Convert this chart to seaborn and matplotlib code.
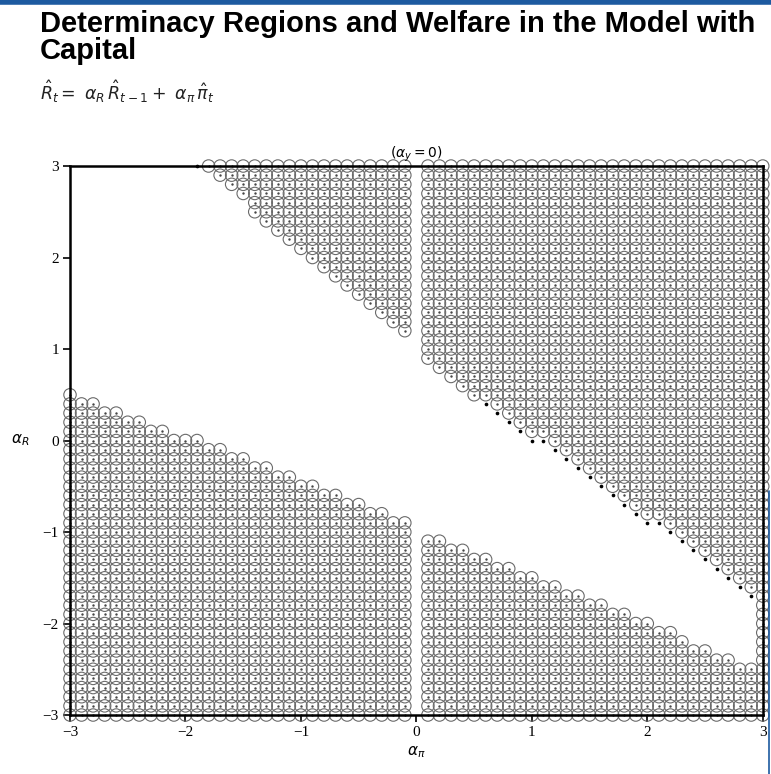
import numpy as np
import pandas as pd
import matplotlib
matplotlib.use("Agg")
import matplotlib.pyplot as plt
import seaborn as sns
from matplotlib.lines import Line2D

# parameter grid (alpha_pi on x, alpha_R on y), step 0.1
alpha_pi = np.round(np.linspace(-3, 3, 61), 1)
alpha_r = np.round(np.linspace(-3, 3, 61), 1)

nan = np.nan
# lowest alpha_R of the upper determinacy region, per alpha_pi column
upper_floor = [nan] * 11 + [
    3.0, 3.0, 2.9, 2.8, 2.7, 2.5, 2.4, 2.3, 2.2, 2.1, 2.0, 1.9, 1.8, 1.7, 1.6, 1.5, 1.4, 1.3, 1.2,
    nan,
    0.9, 0.8, 0.7, 0.6, 0.5, 0.4, 0.3, 0.2, 0.1, 0.0, 0.0, -0.1, -0.2, -0.3, -0.4,
    -0.5, -0.6, -0.7, -0.8, -0.9, -0.9, -1.0, -1.1, -1.2, -1.3, -1.4, -1.5, -1.6, -1.7, -3.0]
# highest alpha_R of the lower determinacy region, per alpha_pi column
lower_ceiling = [
    0.5, 0.4, 0.4, 0.3, 0.3, 0.2, 0.2, 0.1, 0.1, 0.0, 0.0, 0.0, -0.1, -0.1, -0.2,
    -0.2, -0.3, -0.3, -0.4, -0.4, -0.5, -0.5, -0.6, -0.6, -0.7, -0.7, -0.8, -0.8, -0.9, -0.9,
    nan,
    -1.1, -1.1, -1.2, -1.2, -1.3, -1.3, -1.4, -1.4, -1.5, -1.5, -1.6, -1.6, -1.7, -1.7, -1.8,
    -1.8, -1.9, -1.9, -2.0, -2.0, -2.1, -2.1, -2.2, -2.3, -2.3, -2.4, -2.4, -2.5, -2.5, -2.6]

rows = []
for x, fl, ce in zip(alpha_pi, upper_floor, lower_ceiling):
    for y in alpha_r:
        if not np.isnan(fl) and y >= fl - 1e-9:
            edge = abs(y - fl) < 1e-9 and (0.6 <= x <= 2.9 or x <= -1.9)
            rows.append((x, y, "dot" if edge else "circle"))
        elif not np.isnan(ce) and y <= ce + 1e-9:
            rows.append((x, y, "circle"))
df = pd.DataFrame(rows, columns=["alpha_pi", "alpha_R", "kind"])

sns.set_theme(style="white")
plt.rcParams["font.family"] = ["Liberation Serif", "DejaVu Serif"]
plt.rcParams["text.color"] = "black"

fig = plt.figure(figsize=(7.71, 7.74), dpi=100)
ax = fig.add_axes([0.0908, 0.0762, 0.8985, 0.7093])

circ = df[df["kind"] == "circle"]
dots = df[df["kind"] == "dot"]
sns.scatterplot(data=circ, x="alpha_pi", y="alpha_R", marker="o", s=80,
                facecolor="none", edgecolor="#6a6a6a", linewidth=0.8,
                clip_on=False, legend=False, ax=ax)
sns.scatterplot(data=circ, x="alpha_pi", y="alpha_R", marker="o", s=3,
                color="#444444", linewidth=0, clip_on=False, legend=False, ax=ax)
sns.scatterplot(data=dots, x="alpha_pi", y="alpha_R", marker="o", s=7,
                color="black", linewidth=0, clip_on=False, legend=False, ax=ax)

ax.set_xlim(-3, 3)
ax.set_ylim(-3, 3)
ax.set_xticks(range(-3, 4))
ax.set_yticks(range(-3, 4))
ax.set_xticklabels([str(v).replace("-", "\u2212") for v in range(-3, 4)])
ax.set_yticklabels([str(v).replace("-", "\u2212") for v in range(-3, 4)])
ax.tick_params(direction="out", length=5, width=1.2, labelsize=11, colors="black",
               bottom=True, left=True, pad=3)
for sp in ax.spines.values():
    sp.set_color("black")
    sp.set_linewidth(1.8)
    sp.set_zorder(3)

ax.set_xlabel(r"$\alpha_\pi$", fontsize=11, labelpad=4, color="black")
ax.set_ylabel(r"$\alpha_R$", fontsize=11, rotation=0, labelpad=16, va="center", color="black")
ax.set_title(r"$(\alpha_y = 0)$", fontsize=10, pad=6, color="black")

fig.text(0.052, 0.987, "Determinacy Regions and Welfare in the Model with\nCapital",
         fontsize=21, fontweight="bold", family="Liberation Sans", va="top", ha="left",
         linespacing=0.95, color="black")
fig.text(0.052, 0.882, r"$\hat{R}_t = \ \alpha_R\,\hat{R}_{t-1} + \ \alpha_\pi\,\hat{\pi}_t$",
         fontsize=12.5, va="center", ha="left", color="#222222")

# blue frame decoration of the source page
fig.add_artist(Line2D([0, 1], [0.997, 0.997], color="#1d5aa0", linewidth=4,
                      transform=fig.transFigure))
fig.add_artist(Line2D([0.997, 0.997], [0, 0.365], color="#1d5aa0", linewidth=1.2,
                      transform=fig.transFigure))

fig.savefig("out.png", dpi=100)
